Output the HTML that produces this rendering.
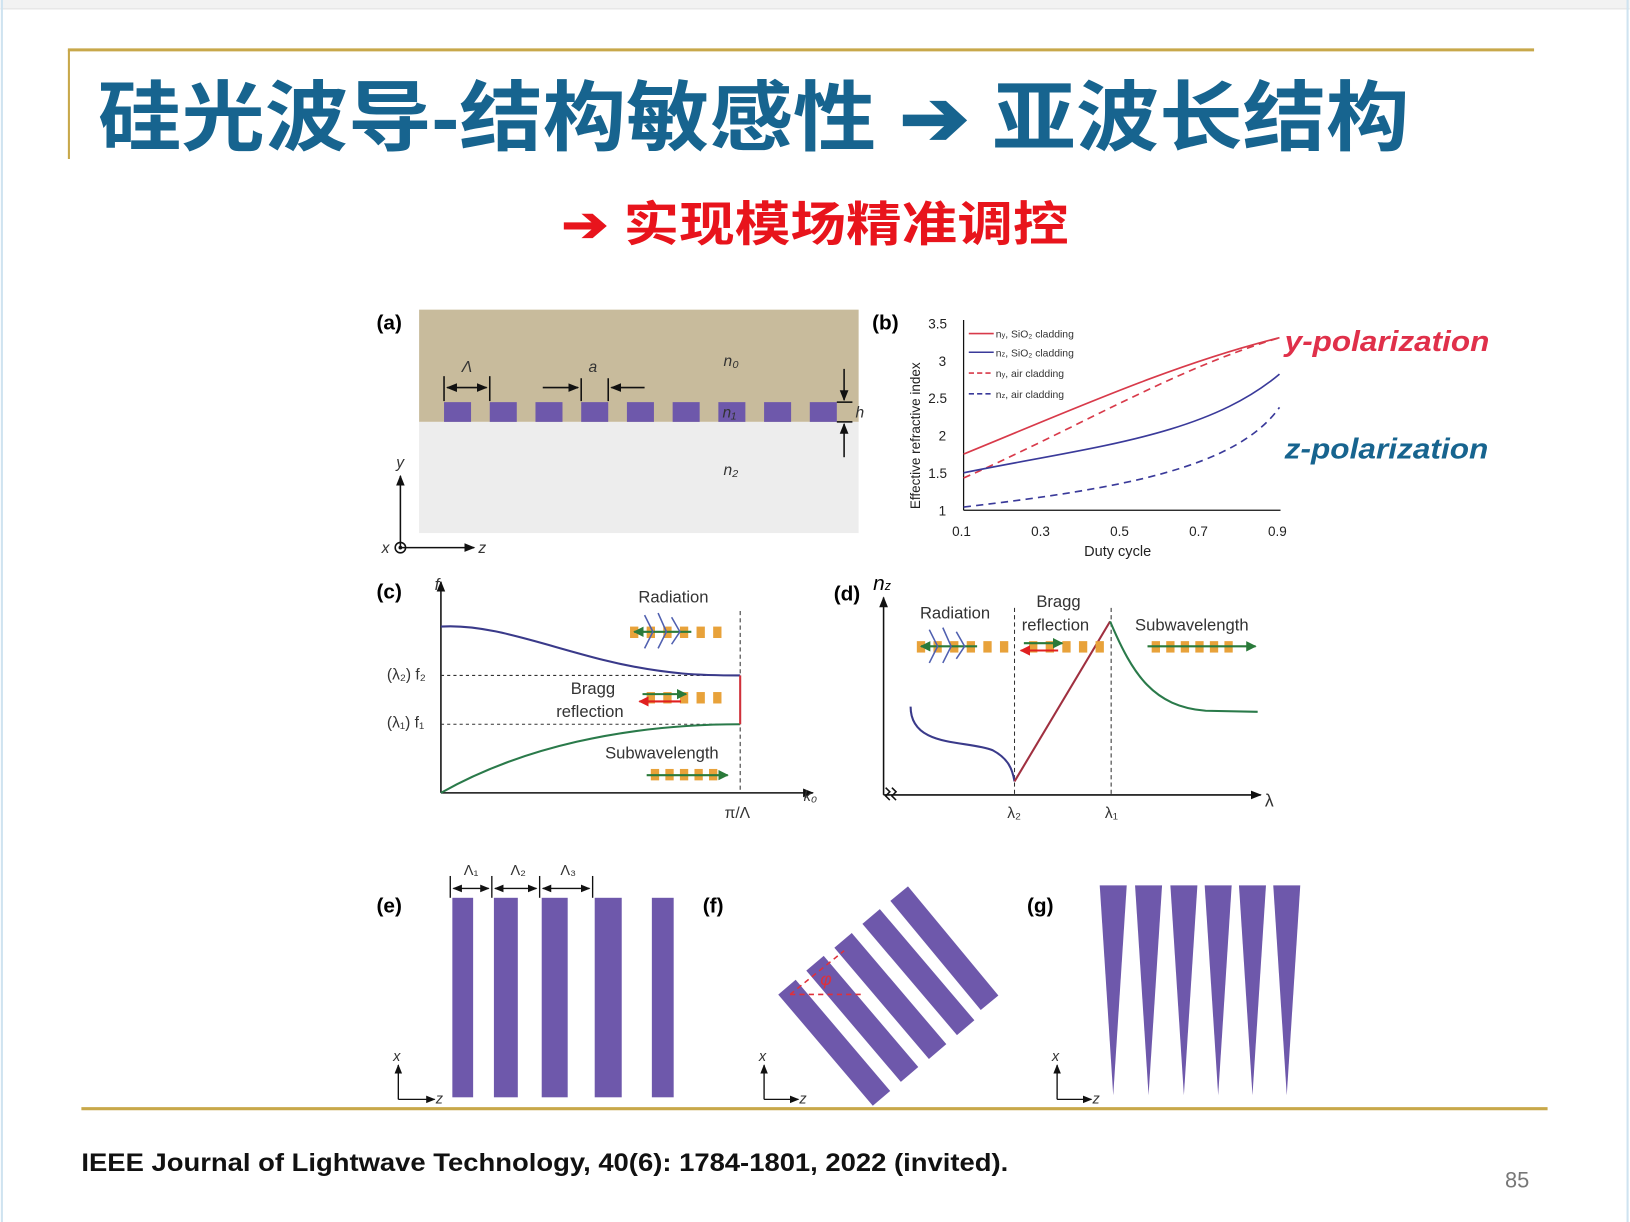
<!DOCTYPE html>
<html><head><meta charset="utf-8"><style>
html,body{margin:0;padding:0;background:#fff;}
svg{display:block;}
text{font-family:"Liberation Sans","Noto Sans CJK SC",sans-serif;}
</style></head><body>
<svg width="1630" height="1222" viewBox="0 0 1568 1176" xmlns="http://www.w3.org/2000/svg">
<defs>
<marker id="ah" viewBox="0 0 10 10" refX="9" refY="5" markerWidth="7" markerHeight="7" orient="auto-start-reverse"><path d="M0,1 L10,5 L0,9 z" fill="#111"/></marker>
<marker id="ag" viewBox="0 0 10 10" refX="9" refY="5" markerWidth="5" markerHeight="5" orient="auto"><path d="M0,0 L10,5 L0,10 z" fill="#2a7a3a"/></marker>
<marker id="ar" viewBox="0 0 10 10" refX="9" refY="5" markerWidth="5" markerHeight="5" orient="auto"><path d="M0,0 L10,5 L0,10 z" fill="#e02020"/></marker>
</defs>
<rect x="0" y="0" width="1568" height="8" fill="#f2f2f2"/>
<line x1="0" y1="8.5" x2="1568" y2="8.5" stroke="#ddd"/>
<line x1="1.5" y1="0" x2="1.5" y2="1176" stroke="#cfe3f0" stroke-width="2"/>
<line x1="1566" y1="0" x2="1566" y2="1176" stroke="#cfe3f0" stroke-width="2"/>
<!-- title -->
<line x1="65" y1="48" x2="1476" y2="48" stroke="#c8a84a" stroke-width="3"/>
<line x1="66" y1="48" x2="66" y2="153" stroke="#c8a84a" stroke-width="2"/>
<text x="94" y="139" font-size="74" font-weight="bold" fill="#17648f" font-family="'Noto Sans CJK SC',sans-serif" textLength="1262" lengthAdjust="spacingAndGlyphs">硅光波导-结构敏感性 ➔ 亚波长结构</text>
<text x="540" y="232" font-size="46" font-weight="bold" fill="#e8141c" font-family="'Noto Sans CJK SC',sans-serif" textLength="488" lengthAdjust="spacingAndGlyphs">➔  实现模场精准调控</text>

<!-- (a) -->
<text x="362" y="317" font-size="20" font-weight="bold">(a)</text>
<rect x="403" y="298" width="423" height="108" fill="#c8bb9c"/>
<rect x="403" y="406" width="423" height="107" fill="#ededed"/>
<g fill="#6e58ab">
<rect x="427" y="387" width="26" height="19"/><rect x="471" y="387" width="26" height="19"/><rect x="515" y="387" width="26" height="19"/><rect x="559" y="387" width="26" height="19"/><rect x="603" y="387" width="26" height="19"/><rect x="647" y="387" width="26" height="19"/><rect x="691" y="387" width="26" height="19"/><rect x="735" y="387" width="26" height="19"/><rect x="779" y="387" width="26" height="19"/>
</g>
<g stroke="#111" stroke-width="1.5" fill="none">
<line x1="427" y1="362" x2="427" y2="386"/><line x1="471" y1="362" x2="471" y2="386"/>
<line x1="430" y1="373" x2="468" y2="373" marker-start="url(#ah)" marker-end="url(#ah)"/>
<line x1="559" y1="364" x2="559" y2="386"/><line x1="585" y1="364" x2="585" y2="386"/>
<line x1="522" y1="373" x2="556" y2="373" marker-end="url(#ah)"/>
<line x1="620" y1="373" x2="588" y2="373" marker-end="url(#ah)"/>
<line x1="805" y1="387" x2="820" y2="387"/><line x1="805" y1="406" x2="820" y2="406"/>
<line x1="812" y1="355" x2="812" y2="385" marker-end="url(#ah)"/>
<line x1="812" y1="440" x2="812" y2="408" marker-end="url(#ah)"/>
<line x1="385" y1="527" x2="385" y2="458" marker-end="url(#ah)"/>
<line x1="385" y1="527" x2="456" y2="527" marker-end="url(#ah)"/>
<circle cx="385" cy="527" r="5"/>
</g>
<circle cx="385" cy="527" r="1.8" fill="#111"/>
<g font-size="15" fill="#333" font-style="italic">
<text x="444" y="358">Λ</text><text x="566" y="358">a</text>
<text x="696" y="352">n₀</text><text x="695" y="402">n₁</text><text x="696" y="457">n₂</text>
<text x="823" y="402">h</text><text x="381" y="450">y</text><text x="367" y="532">x</text><text x="460" y="532">z</text>
</g>

<!-- (b) -->
<text x="839" y="317" font-size="20" font-weight="bold">(b)</text>
<g stroke="#111" stroke-width="1.2" fill="none">
<line x1="927" y1="308" x2="927" y2="491"/><line x1="927" y1="491" x2="1232" y2="491"/>
</g>
<g font-size="13" fill="#222">
<text x="893" y="316">3.5</text><text x="903" y="352">3</text><text x="893" y="388">2.5</text><text x="903" y="424">2</text><text x="893" y="460">1.5</text><text x="903" y="496">1</text>
<text x="916" y="516">0.1</text><text x="992" y="516">0.3</text><text x="1068" y="516">0.5</text><text x="1144" y="516">0.7</text><text x="1220" y="516">0.9</text>
<text x="1043" y="535" font-size="14">Duty cycle</text>
<text transform="translate(885,490) rotate(-90)" font-size="13">Effective refractive index</text>
</g>
<path d="M927,437 C1030,395 1130,350 1231,325" stroke="#d83a4a" stroke-width="1.6" fill="none"/>
<path d="M927,460 C1030,415 1130,355 1231,325" stroke="#d83a4a" stroke-width="1.6" fill="none" stroke-dasharray="7,5"/>
<path d="M927,455 C1050,430 1160,420 1231,360" stroke="#3a3a9a" stroke-width="1.6" fill="none"/>
<path d="M927,488 C1080,470 1190,450 1231,392" stroke="#3a3a9a" stroke-width="1.6" fill="none" stroke-dasharray="7,5"/>
<g font-size="10" fill="#333">
<line x1="932" y1="321" x2="956" y2="321" stroke="#d83a4a" stroke-width="1.5"/><text x="958" y="325">n<tspan font-size="7">y</tspan>, SiO₂ cladding</text>
<line x1="932" y1="339" x2="956" y2="339" stroke="#3a3a9a" stroke-width="1.5"/><text x="958" y="343">n<tspan font-size="7">z</tspan>, SiO₂ cladding</text>
<line x1="932" y1="359" x2="956" y2="359" stroke="#d83a4a" stroke-width="1.5" stroke-dasharray="5,3"/><text x="958" y="363">n<tspan font-size="7">y</tspan>, air cladding</text>
<line x1="932" y1="379" x2="956" y2="379" stroke="#3a3a9a" stroke-width="1.5" stroke-dasharray="5,3"/><text x="958" y="383">n<tspan font-size="7">z</tspan>, air cladding</text>
</g>
<text x="1236" y="338" font-size="28" font-weight="bold" fill="#e0304a" font-style="italic" textLength="197" lengthAdjust="spacingAndGlyphs">y-polarization</text>
<text x="1236" y="441" font-size="28" font-weight="bold" fill="#17648f" font-style="italic" textLength="196" lengthAdjust="spacingAndGlyphs">z-polarization</text>

<!-- (c) -->
<text x="362" y="576" font-size="20" font-weight="bold">(c)</text>
<g stroke="#111" stroke-width="1.5" fill="none">
<line x1="424" y1="763" x2="424" y2="560" marker-end="url(#ah)"/>
<line x1="424" y1="763" x2="782" y2="763" marker-end="url(#ah)"/>
</g>
<line x1="712" y1="588" x2="712" y2="763" stroke="#333" stroke-dasharray="4,3"/>
<line x1="424" y1="650" x2="712" y2="650" stroke="#333" stroke-dasharray="3,3"/>
<line x1="424" y1="697" x2="712" y2="697" stroke="#333" stroke-dasharray="3,3"/>
<path d="M424,603 C470,600 520,620 580,635 C640,650 680,650 712,650" stroke="#3a3a8a" stroke-width="2" fill="none"/>
<path d="M424,763 C500,720 600,697 712,697" stroke="#2a7a4a" stroke-width="2" fill="none"/>
<line x1="712" y1="650" x2="712" y2="697" stroke="#d0303a" stroke-width="2"/>
<g font-size="16" fill="#333">
<text x="614" y="580">Radiation</text><text x="549" y="668">Bragg</text><text x="535" y="690">reflection</text><text x="582" y="730">Subwavelength</text>
<text x="372" y="654" font-size="15">(λ₂) f₂</text><text x="372" y="700" font-size="15">(λ₁) f₁</text>
<text x="418" y="568" font-style="italic">f</text><text x="697" y="787" font-size="15">π/Λ</text><text x="773" y="771" font-size="14" font-style="italic">k₀</text>
</g>
<g fill="#e8a23a">
<rect x="606" y="603" width="8" height="11"/><rect x="622" y="603" width="8" height="11"/><rect x="638" y="603" width="8" height="11"/><rect x="654" y="603" width="8" height="11"/><rect x="670" y="603" width="8" height="11"/><rect x="686" y="603" width="8" height="11"/>
<rect x="622" y="666" width="8" height="11"/><rect x="638" y="666" width="8" height="11"/><rect x="654" y="666" width="8" height="11"/><rect x="670" y="666" width="8" height="11"/><rect x="686" y="666" width="8" height="11"/>
<rect x="626" y="740" width="8" height="11"/><rect x="640" y="740" width="8" height="11"/><rect x="654" y="740" width="8" height="11"/><rect x="668" y="740" width="8" height="11"/><rect x="682" y="740" width="8" height="11"/>
</g>
<line x1="665" y1="608" x2="610" y2="608" stroke="#2a7a3a" stroke-width="2" marker-end="url(#ag)"/>
<path d="M620,592 l8,16 l-8,16 M633,590 l8,18 l-8,16 M646,594 l8,14 l-8,12" stroke="#5060b0" stroke-width="1.5" fill="none"/>
<line x1="618" y1="668" x2="660" y2="668" stroke="#2a7a3a" stroke-width="2" marker-end="url(#ag)"/>
<line x1="655" y1="675" x2="615" y2="675" stroke="#e02020" stroke-width="2" marker-end="url(#ar)"/>
<line x1="622" y1="746" x2="700" y2="746" stroke="#2a7a3a" stroke-width="2" marker-end="url(#ag)"/>

<!-- (d) -->
<text x="802" y="578" font-size="20" font-weight="bold">(d)</text>
<text x="840" y="568" font-size="20" font-style="italic">n<tspan font-size="12">z</tspan></text>
<g stroke="#111" stroke-width="1.5" fill="none">
<line x1="850" y1="765" x2="850" y2="575" marker-end="url(#ah)"/>
<line x1="850" y1="765" x2="1213" y2="765" marker-end="url(#ah)"/>
<path d="M852,758 l4,4 l-4,4 l4,4 M858,758 l4,4 l-4,4 l4,4"/>
</g>
<line x1="976" y1="585" x2="976" y2="765" stroke="#333" stroke-dasharray="4,3"/>
<line x1="1069" y1="585" x2="1069" y2="765" stroke="#333" stroke-dasharray="4,3"/>
<path d="M876,680 C876,720 930,712 955,722 C970,730 974,740 976,752" stroke="#3a3a8a" stroke-width="2" fill="none"/>
<line x1="976" y1="752" x2="1068" y2="598" stroke="#a03040" stroke-width="2"/>
<path d="M1068,598 C1090,650 1110,680 1160,684 L1210,685" stroke="#2a7a4a" stroke-width="2" fill="none"/>
<g font-size="16" fill="#333">
<text x="885" y="595">Radiation</text><text x="997" y="584">Bragg</text><text x="983" y="607">reflection</text><text x="1092" y="607">Subwavelength</text>
<text x="969" y="787" font-size="15">λ₂</text><text x="1063" y="787" font-size="15">λ₁</text><text x="1217" y="776" font-size="17">λ</text>
</g>
<g fill="#e8a23a">
<rect x="882" y="617" width="8" height="11"/><rect x="898" y="617" width="8" height="11"/><rect x="914" y="617" width="8" height="11"/><rect x="930" y="617" width="8" height="11"/><rect x="946" y="617" width="8" height="11"/><rect x="962" y="617" width="8" height="11"/>
<rect x="990" y="617" width="8" height="11"/><rect x="1006" y="617" width="8" height="11"/><rect x="1022" y="617" width="8" height="11"/><rect x="1038" y="617" width="8" height="11"/><rect x="1054" y="617" width="8" height="11"/>
<rect x="1108" y="617" width="8" height="11"/><rect x="1122" y="617" width="8" height="11"/><rect x="1136" y="617" width="8" height="11"/><rect x="1150" y="617" width="8" height="11"/><rect x="1164" y="617" width="8" height="11"/><rect x="1178" y="617" width="8" height="11"/>
</g>
<line x1="940" y1="622" x2="886" y2="622" stroke="#2a7a3a" stroke-width="2" marker-end="url(#ag)"/>
<path d="M894,606 l8,16 l-8,16 M907,604 l8,18 l-8,16 M920,608 l8,14 l-8,12" stroke="#5060b0" stroke-width="1.5" fill="none"/>
<line x1="985" y1="619" x2="1022" y2="619" stroke="#2a7a3a" stroke-width="2" marker-end="url(#ag)"/>
<line x1="1018" y1="626" x2="982" y2="626" stroke="#e02020" stroke-width="2" marker-end="url(#ar)"/>
<line x1="1104" y1="622" x2="1208" y2="622" stroke="#2a7a3a" stroke-width="2" marker-end="url(#ag)"/>

<!-- (e) -->
<text x="362" y="878" font-size="20" font-weight="bold">(e)</text>
<g fill="#6e58ab">
<rect x="435" y="864" width="20" height="192"/><rect x="475" y="864" width="23" height="192"/><rect x="521" y="864" width="25" height="192"/><rect x="572" y="864" width="26" height="192"/><rect x="627" y="864" width="21" height="192"/>
</g>
<g stroke="#111" stroke-width="1.3" fill="none">
<line x1="433" y1="843" x2="433" y2="864"/><line x1="473" y1="843" x2="473" y2="864"/><line x1="519" y1="843" x2="519" y2="864"/><line x1="570" y1="843" x2="570" y2="864"/>
<line x1="436" y1="855" x2="470" y2="855" marker-start="url(#ah)" marker-end="url(#ah)"/>
<line x1="476" y1="855" x2="516" y2="855" marker-start="url(#ah)" marker-end="url(#ah)"/>
<line x1="522" y1="855" x2="567" y2="855" marker-start="url(#ah)" marker-end="url(#ah)"/>
<line x1="383" y1="1058" x2="383" y2="1025" marker-end="url(#ah)"/><line x1="383" y1="1058" x2="418" y2="1058" marker-end="url(#ah)"/>
<line x1="735" y1="1058" x2="735" y2="1025" marker-end="url(#ah)"/><line x1="735" y1="1058" x2="768" y2="1058" marker-end="url(#ah)"/>
<line x1="1017" y1="1058" x2="1017" y2="1025" marker-end="url(#ah)"/><line x1="1017" y1="1058" x2="1050" y2="1058" marker-end="url(#ah)"/>
</g>
<g font-size="14" fill="#333">
<text x="446" y="842">Λ₁</text><text x="491" y="842">Λ₂</text><text x="539" y="842">Λ₃</text>
<text x="378" y="1021" font-style="italic">x</text><text x="419" y="1062" font-style="italic">z</text>
<text x="730" y="1021" font-style="italic">x</text><text x="769" y="1062" font-style="italic">z</text>
<text x="1012" y="1021" font-style="italic">x</text><text x="1051" y="1062" font-style="italic">z</text>
</g>

<!-- (f) -->
<text x="676" y="878" font-size="20" font-weight="bold">(f)</text>
<g stroke="#6e58ab" stroke-width="22">
<line x1="757" y1="950" x2="848" y2="1057"/>
<line x1="784" y1="927" x2="875" y2="1034"/>
<line x1="811" y1="905" x2="902" y2="1012"/>
<line x1="838" y1="882" x2="929" y2="989"/>
<line x1="865" y1="860" x2="952" y2="965"/>
</g>
<g stroke="#e0303a" stroke-width="1.5" fill="none" stroke-dasharray="5,4">
<line x1="760" y1="957" x2="828" y2="957"/><line x1="760" y1="957" x2="812" y2="915"/>
</g>
<text x="789" y="948" font-size="17" fill="#e0303a" font-style="italic">φ</text>

<!-- (g) -->
<text x="988" y="878" font-size="20" font-weight="bold">(g)</text>
<g fill="#6e58ab">
<polygon points="1058,852 1084,852 1071,1054"/><polygon points="1092,852 1118,852 1105,1054"/><polygon points="1126,852 1152,852 1139,1054"/><polygon points="1159,852 1185,852 1172,1054"/><polygon points="1192,852 1218,852 1205,1054"/><polygon points="1225,852 1251,852 1238,1054"/>
</g>

<!-- footer -->
<line x1="78" y1="1067" x2="1489" y2="1067" stroke="#c8a84a" stroke-width="3"/>
<text x="78" y="1127" font-size="24" font-weight="bold" fill="#111" textLength="892" lengthAdjust="spacingAndGlyphs">IEEE Journal of Lightwave Technology, 40(6): 1784-1801, 2022 (invited).</text>
<text x="1448" y="1143" font-size="21" fill="#777" font-family="'Liberation Serif',serif">85</text>
</svg>
</body></html>
